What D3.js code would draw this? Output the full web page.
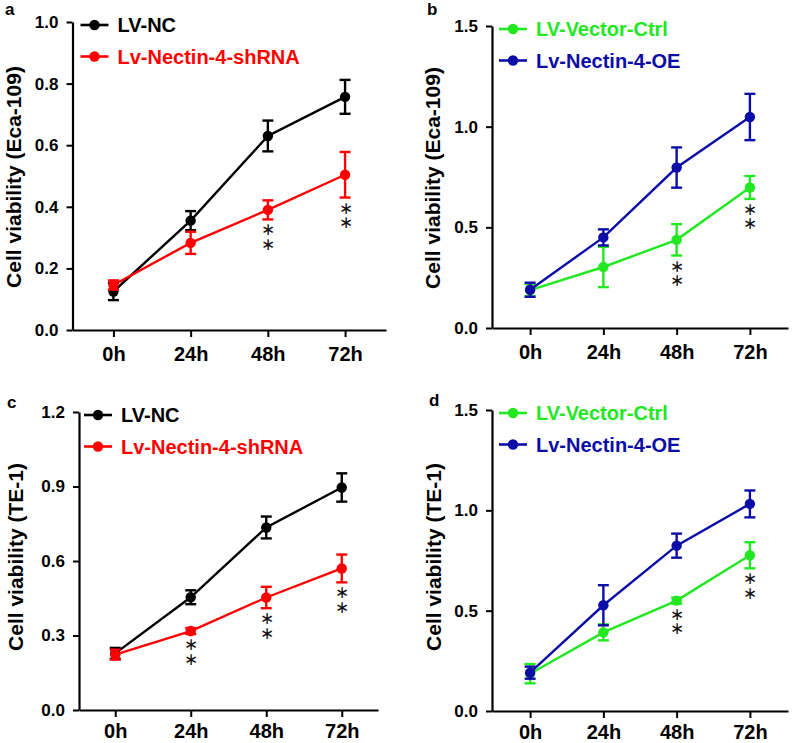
<!DOCTYPE html>
<html>
<head>
<meta charset="utf-8">
<script src="https://cdn.jsdelivr.net/npm/d3@7"></script>
<style>
  html, body { margin: 0; padding: 0; background: #fff; }
  svg { display: block; }
  text { font-family: "Liberation Sans", Arial, sans-serif; }
  text.stars { writing-mode: vertical-rl; text-orientation: upright; }
</style>
</head>
<body>
<svg id="chart" width="797" height="743"></svg>
<script>
// ---------------- data ----------------
const timepoints = ["0h", "24h", "48h", "72h"];

// Panel a (Eca-109)
const aNames = ["LV-NC", "Lv-Nectin-4-shRNA"];
const aNC = [0.125, 0.355, 0.630, 0.757];
const aNCErr = [0.028, 0.031, 0.050, 0.055];
const aSh = [0.146, 0.283, 0.390, 0.504];
const aShErr = [0.015, 0.036, 0.031, 0.074];
const aStars = ["48h", "72h"];
const aTicks = [0, 0.2, 0.4, 0.6, 0.8, 1.0];

// Panel b (Eca-109)
const bNames = ["LV-Vector-Ctrl", "Lv-Nectin-4-OE"];
const bCtrl = [0.188, 0.303, 0.438, 0.698];
const bCtrlErr = [0.030, 0.100, 0.078, 0.057];
const bOE = [0.190, 0.450, 0.797, 1.048];
const bOEErr = [0.035, 0.040, 0.100, 0.115];
const bStars = ["48h", "72h"];
const bTicks = [0, 0.5, 1.0, 1.5];

// Panel c (TE-1)
const cNames = ["LV-NC", "Lv-Nectin-4-shRNA"];
const cNC = [0.228, 0.454, 0.735, 0.896];
const cNCErr = [0.022, 0.028, 0.044, 0.057];
const cSh = [0.223, 0.318, 0.453, 0.570];
const cShErr = [0.020, 0.012, 0.043, 0.056];
const cStars = ["24h", "48h", "72h"];
const cTicks = [0, 0.3, 0.6, 0.9, 1.2];

// Panel d (TE-1)
const dNames = ["LV-Vector-Ctrl", "Lv-Nectin-4-OE"];
const dCtrl = [0.186, 0.392, 0.550, 0.776];
const dCtrlErr = [0.048, 0.040, 0.015, 0.065];
const dOE = [0.191, 0.527, 0.824, 1.032];
const dOEErr = [0.030, 0.100, 0.060, 0.067];
const dStars = ["48h", "72h"];
const dTicks = [0, 0.5, 1.0, 1.5];

const BLACK = "#000000", RED = "#ff0000", GREEN = "#22e822", BLUE = "#0c0ca6";

// ---------------- drawing ----------------
const svg = d3.select("#chart");

function drawPanel(cfg) {
  const g = svg.append("g");
  const x = d3.scalePoint().domain(timepoints).range([cfg.left, cfg.right]).padding(cfg.pad);
  const y = d3.scaleLinear().domain([0, cfg.ymax]).range([cfg.bottom, cfg.top]);

  // y axis
  const ya = g.append("g").attr("transform", `translate(${cfg.left},0)`)
    .call(d3.axisLeft(y).tickValues(cfg.ticks).tickSize(6).tickSizeOuter(0)
      .tickFormat(d3.format(".1f")).tickPadding(8));
  ya.select(".domain").attr("stroke", "#000").attr("stroke-width", 2.2);
  ya.selectAll(".tick line").attr("stroke", "#000").attr("stroke-width", 2);
  ya.selectAll(".tick text").attr("font-size", 17).attr("font-weight", "bold")
    .attr("font-family", "Liberation Sans, Arial, sans-serif").attr("fill", "#000");

  // x axis
  const xa = g.append("g").attr("transform", `translate(0,${cfg.bottom})`)
    .call(d3.axisBottom(x).tickSize(7).tickSizeOuter(0).tickPadding(cfg.xPad));
  xa.select(".domain").attr("stroke", "#000").attr("stroke-width", 2.2);
  xa.selectAll(".tick line").attr("stroke", "#000").attr("stroke-width", 2);
  xa.selectAll(".tick text").attr("font-size", 20).attr("font-weight", "bold")
    .attr("font-family", "Liberation Sans, Arial, sans-serif").attr("fill", "#000");

  // y label
  g.append("text")
    .attr("transform", `translate(${cfg.labelX},${cfg.labelY}) rotate(-90)`)
    .attr("text-anchor", "middle").attr("dominant-baseline", "central")
    .attr("font-size", 21).attr("font-weight", "bold").text(cfg.ylabel);

  // panel letter
  g.append("text").attr("x", cfg.letterX).attr("y", cfg.letterY)
    .attr("font-size", 17).attr("font-weight", "bold").text(cfg.letter);

  // series
  cfg.series.forEach(s => {
    const pts = timepoints.map((t, i) => ({ t, v: s.values[i], e: s.errs[i] }));
    const sg = g.append("g");
    sg.append("path").datum(pts)
      .attr("fill", "none").attr("stroke", s.color).attr("stroke-width", 2.4)
      .attr("d", d3.line().x(d => x(d.t)).y(d => y(d.v)));
    const eb = sg.selectAll("g.eb").data(pts).enter().append("g");
    eb.append("line").attr("x1", d => x(d.t)).attr("x2", d => x(d.t))
      .attr("y1", d => y(d.v - d.e)).attr("y2", d => y(d.v + d.e))
      .attr("stroke", s.color).attr("stroke-width", 2.4);
    [-1, 1].forEach(sgn => {
      eb.append("line").attr("x1", d => x(d.t) - 5.5).attr("x2", d => x(d.t) + 5.5)
        .attr("y1", d => y(d.v + sgn * d.e)).attr("y2", d => y(d.v + sgn * d.e))
        .attr("stroke", s.color).attr("stroke-width", 2.4);
    });
    sg.selectAll("circle").data(pts).enter().append("circle")
      .attr("cx", d => x(d.t)).attr("cy", d => y(d.v)).attr("r", 5.2)
      .attr("fill", s.color);
  });

  // significance stars (two stacked, one vertical text) below the lower series' error bar
  const low = cfg.series[cfg.lowIdx];
  cfg.stars.forEach(t => {
    const i = timepoints.indexOf(t);
    const yb = y(low.values[i] - low.errs[i]);
    g.append("text").attr("class", "stars")
      .attr("x", x(t)).attr("y", yb)
      .attr("font-family", "DejaVu Sans, sans-serif")
      .attr("font-size", 17).attr("letter-spacing", -5.5)
      .attr("fill", "#111").text("\u2217\u2217");
  });

  // legend
  cfg.series.forEach((s, k) => {
    const ly = cfg.top + 3 + k * 31.5;
    const lx = cfg.left + cfg.legOff;
    g.append("line").attr("x1", lx).attr("x2", lx + 28).attr("y1", ly).attr("y2", ly)
      .attr("stroke", s.color).attr("stroke-width", 2.6);
    g.append("circle").attr("cx", lx + 14).attr("cy", ly).attr("r", 5.2).attr("fill", s.color);
    g.append("text").attr("x", lx + 37).attr("y", ly).attr("dominant-baseline", "central")
      .attr("font-size", 20).attr("font-weight", "bold").attr("fill", s.color).text(s.name);
  });
}

drawPanel({
  letter: "a", letterX: 5, letterY: 15,
  left: 72.5, right: 386, top: 22, bottom: 330, pad: 0.53, ymax: 1.0, ticks: aTicks, xPad: 10,
  labelX: 13, labelY: 177, ylabel: "Cell viability (Eca-109)", legOff: 8,
  series: [
    { name: aNames[0], values: aNC, errs: aNCErr, color: BLACK },
    { name: aNames[1], values: aSh, errs: aShErr, color: RED }
  ], lowIdx: 1, stars: aStars
});
drawPanel({
  letter: "b", letterX: 427, letterY: 15,
  left: 492, right: 788, top: 26, bottom: 328, pad: 0.52, ymax: 1.5, ticks: bTicks, xPad: 10,
  labelX: 432, labelY: 178, ylabel: "Cell viability (Eca-109)", legOff: 7,
  series: [
    { name: bNames[0], values: bCtrl, errs: bCtrlErr, color: GREEN },
    { name: bNames[1], values: bOE, errs: bOEErr, color: BLUE }
  ], lowIdx: 0, stars: bStars
});
drawPanel({
  letter: "c", letterX: 7, letterY: 408,
  left: 79, right: 378, top: 412, bottom: 710, pad: 0.48, ymax: 1.2, ticks: cTicks, xPad: 7,
  labelX: 15, labelY: 557, ylabel: "Cell viability (TE-1)", legOff: 5,
  series: [
    { name: cNames[0], values: cNC, errs: cNCErr, color: BLACK },
    { name: cNames[1], values: cSh, errs: cShErr, color: RED }
  ], lowIdx: 1, stars: cStars
});
drawPanel({
  letter: "d", letterX: 429, letterY: 406,
  left: 492, right: 788, top: 410, bottom: 711, pad: 0.52, ymax: 1.5, ticks: dTicks, xPad: 7,
  labelX: 433, labelY: 557, ylabel: "Cell viability (TE-1)", legOff: 7,
  series: [
    { name: dNames[0], values: dCtrl, errs: dCtrlErr, color: GREEN },
    { name: dNames[1], values: dOE, errs: dOEErr, color: BLUE }
  ], lowIdx: 0, stars: dStars
});
</script>
</body>
</html>
